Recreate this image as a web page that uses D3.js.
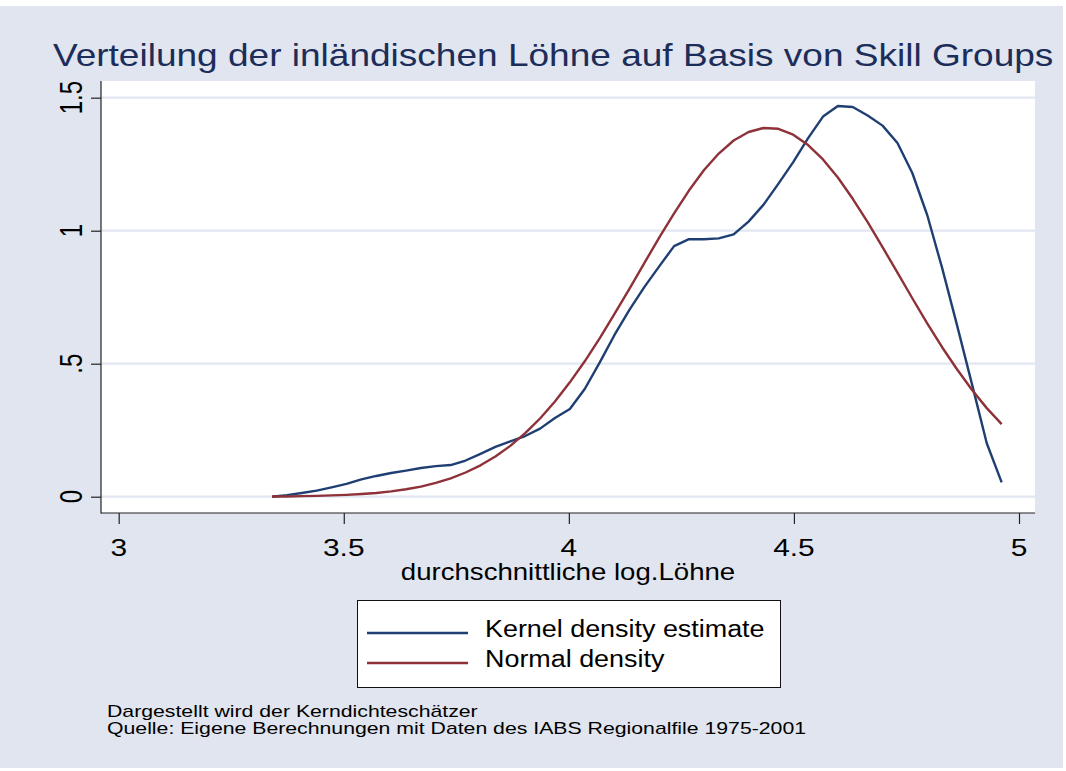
<!DOCTYPE html>
<html lang="de">
<head>
    <meta charset="UTF-8">
    <title>Verteilung der inländischen Löhne</title>
    <script src="https://cdnjs.cloudflare.com/ajax/libs/d3/7.8.5/d3.min.js"></script>
    <style>
        body {
            margin: 0;
            background: #ffffff;
            font-family: "Liberation Sans", Arial, Helvetica, sans-serif;
        }
        svg { display: block; }
    </style>
</head>
<body>
    <script>
        // Data (kdensity grid, 50 points)
        const gridX = [3.3406, 3.3737, 3.4068, 3.4398, 3.4729, 3.5060, 3.5391, 3.5722, 3.6052, 3.6383,
                       3.6714, 3.7045, 3.7376, 3.7706, 3.8037, 3.8368, 3.8699, 3.9030, 3.9360, 3.9691,
                       4.0022, 4.0353, 4.0684, 4.1014, 4.1345, 4.1676, 4.2007, 4.2338, 4.2668, 4.2999,
                       4.3330, 4.3661, 4.3992, 4.4322, 4.4653, 4.4984, 4.5315, 4.5646, 4.5976, 4.6307,
                       4.6638, 4.6969, 4.7300, 4.7630, 4.7961, 4.8292, 4.8623, 4.8954, 4.9284, 4.9615];

        const kernelY = [0.000, 0.006, 0.014, 0.023, 0.035, 0.048, 0.065, 0.078, 0.089, 0.098,
                         0.108, 0.115, 0.119, 0.136, 0.161, 0.187, 0.208, 0.228, 0.256, 0.296,
                         0.330, 0.405, 0.504, 0.608, 0.702, 0.788, 0.866, 0.942, 0.968, 0.968,
                         0.971, 0.986, 1.034, 1.097, 1.176, 1.258, 1.348, 1.429, 1.469, 1.465,
                         1.433, 1.395, 1.330, 1.217, 1.059, 0.860, 0.645, 0.424, 0.201, 0.054];

        const normalY = [0.001, 0.001, 0.002, 0.003, 0.005, 0.007, 0.010, 0.014, 0.020, 0.028,
                         0.038, 0.052, 0.069, 0.091, 0.118, 0.151, 0.191, 0.239, 0.294, 0.358,
                         0.430, 0.509, 0.595, 0.687, 0.781, 0.878, 0.974, 1.065, 1.151, 1.227,
                         1.290, 1.339, 1.371, 1.386, 1.383, 1.361, 1.322, 1.268, 1.200, 1.120,
                         1.032, 0.938, 0.842, 0.746, 0.652, 0.562, 0.479, 0.402, 0.333, 0.273];

        const yTicks = [0, 0.5, 1, 1.5];
        const yTickLabels = ["0", ".5", "1", "1.5"];
        const xTicks = [3, 3.5, 4, 4.5, 5];
        const xTickLabels = ["3", "3.5", "4", "4.5", "5"];

        const seriesNames = ["Kernel density estimate", "Normal density"];
        const seriesColors = ["#1f3f73", "#8e3139"];

        const titleText = "Verteilung der inländischen Löhne auf Basis von Skill Groups";
        const xTitle = "durchschnittliche log.Löhne";
        const notes = ["Dargestellt wird der Kerndichteschätzer",
                       "Quelle: Eigene Berechnungen mit Daten des IABS Regionalfile 1975-2001"];

        const width = 1066, height = 771;
        const bg = "#e0e5ef";

        const svg = d3.select("body").append("svg")
            .attr("width", width)
            .attr("height", height);

        // graph region
        svg.append("rect")
            .attr("x", 0).attr("y", 6)
            .attr("width", 1063).attr("height", 762)
            .attr("fill", bg);

        // plot region
        const plot = { left: 101, top: 81, right: 1035, bottom: 513 };
        svg.append("rect")
            .attr("x", plot.left).attr("y", plot.top)
            .attr("width", plot.right - plot.left)
            .attr("height", plot.bottom - plot.top)
            .attr("fill", "#ffffff");

        const x = d3.scaleLinear().domain([3, 5]).range([118.7, 1019]);
        const y = d3.scaleLinear().domain([0, 1.5]).range([496.7, 97.7]);

        // text slightly widened, as in the reference
        function stext(g, tx, ty, str, size, anchor, sx) {
            return g.append("text")
                .attr("transform", `translate(${tx},${ty}) scale(${sx},1)`)
                .attr("text-anchor", anchor)
                .attr("font-size", size)
                .text(str);
        }

        // gridlines
        svg.append("g")
            .selectAll("line")
            .data(yTicks)
            .join("line")
            .attr("x1", plot.left).attr("x2", plot.right)
            .attr("y1", d => y(d)).attr("y2", d => y(d))
            .attr("stroke", "#e1e6f0")
            .attr("stroke-width", 2.2);

        // y axis
        const yAxis = svg.append("g")
            .attr("transform", `translate(${plot.left},0)`)
            .call(d3.axisLeft(y).tickValues(yTicks).tickSize(10).tickFormat(""));
        yAxis.select(".domain").remove();
        yAxis.selectAll(".tick line").attr("stroke", "#222").attr("stroke-width", 1.2);

        yTicks.forEach((t, i) => {
            svg.append("text")
                .attr("transform", `translate(82,${y(t)}) scale(1.28,1) rotate(-90)`)
                .attr("text-anchor", "middle")
                .attr("font-size", 24)
                .attr("fill", "#000")
                .text(yTickLabels[i]);
        });

        // x axis
        const xAxis = svg.append("g")
            .attr("transform", `translate(0,${plot.bottom})`)
            .call(d3.axisBottom(x).tickValues(xTicks).tickSize(11).tickFormat(""));
        xAxis.select(".domain").remove();
        xAxis.selectAll(".tick line").attr("stroke", "#222").attr("stroke-width", 1.2);

        xTicks.forEach((t, i) => {
            stext(svg, x(t), 556, xTickLabels[i], 24.5, "middle", 1.22).attr("fill", "#000");
        });

        // axis lines
        svg.append("line")
            .attr("x1", plot.left).attr("x2", plot.left)
            .attr("y1", plot.top).attr("y2", plot.bottom + 0.5)
            .attr("stroke", "#222").attr("stroke-width", 1.2);
        svg.append("line")
            .attr("x1", plot.left).attr("x2", plot.right)
            .attr("y1", plot.bottom).attr("y2", plot.bottom)
            .attr("stroke", "#222").attr("stroke-width", 1.2);

        // curves
        const line = d3.line()
            .x(d => x(d[0]))
            .y(d => y(d[1]));

        const series = [kernelY, normalY];
        series.forEach((vals, s) => {
            svg.append("path")
                .datum(gridX.map((g, i) => [g, vals[i]]))
                .attr("fill", "none")
                .attr("stroke", seriesColors[s])
                .attr("stroke-width", 2.4)
                .attr("stroke-linejoin", "round")
                .attr("d", line);
        });

        // title
        stext(svg, 53, 66, titleText, 31, "start", 1.195).attr("fill", "#1c2d59");

        // x axis title
        stext(svg, (plot.left + plot.right) / 2, 580, xTitle, 23, "middle", 1.2).attr("fill", "#000");

        // legend
        const legend = svg.append("g");
        legend.append("rect")
            .attr("x", 357.5).attr("y", 600.5)
            .attr("width", 423).attr("height", 87)
            .attr("fill", "#fff")
            .attr("stroke", "#111").attr("stroke-width", 1);
        seriesNames.forEach((name, i) => {
            const ly = 633 + i * 30;
            legend.append("line")
                .attr("x1", 367).attr("x2", 468)
                .attr("y1", ly).attr("y2", ly)
                .attr("stroke", seriesColors[i])
                .attr("stroke-width", 2.4);
            stext(legend, 485, ly + 4, name, 23, "start", 1.17).attr("fill", "#000");
        });

        // notes
        notes.forEach((n, i) => {
            stext(svg, 107, 716.5 + i * 17.5, n, 17, "start", 1.25).attr("fill", "#000");
        });
    </script>
</body>
</html>
